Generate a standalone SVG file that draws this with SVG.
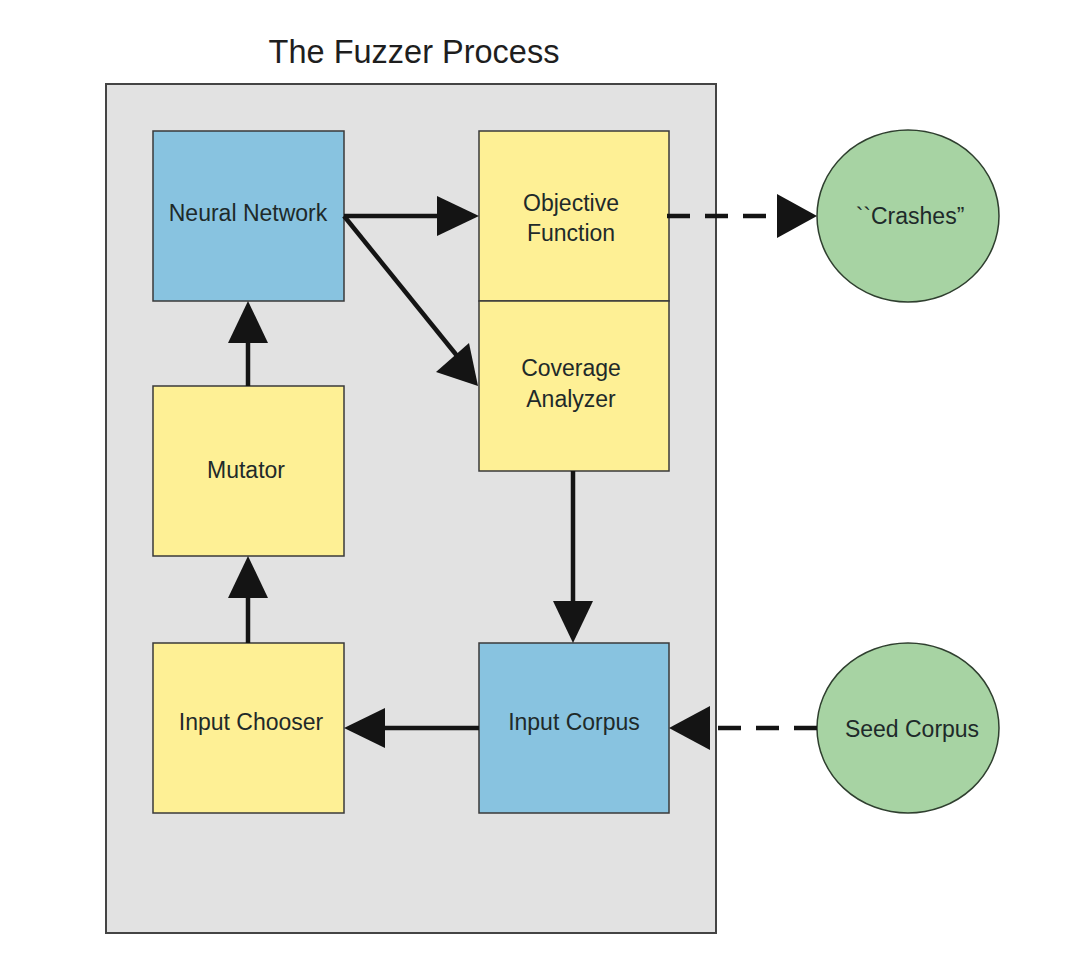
<svg xmlns="http://www.w3.org/2000/svg" width="1080" height="966" viewBox="0 0 1080 966">
<defs>
<style>
.lbl{font-family:"Liberation Sans",Arial,sans-serif;font-size:23px;fill:#1e2a2a;text-anchor:middle}
.box{stroke:#3a3a3a;stroke-width:1.5}
.blue{fill:#88c3e0}
.yellow{fill:#fef095}
.green{fill:#a7d3a3;stroke:#2f3f2f;stroke-width:1.5}
.ln{stroke:#141414;stroke-width:4.5;fill:none}
.dash{stroke:#141414;stroke-width:4.5;fill:none;stroke-dasharray:23 15}
.head{fill:#141414}
</style>
</defs>
<rect x="0" y="0" width="1080" height="966" fill="#ffffff"/>
<text x="414" y="63" style="font-family:'Liberation Sans',Arial,sans-serif;font-size:32.5px;fill:#1e1e1e;text-anchor:middle">The Fuzzer Process</text>
<g id="fuzzer-process">
<rect x="106" y="84" width="610" height="849" fill="#e2e2e2" stroke="#444" stroke-width="2"/>
</g>
<g id="neural-network">
<rect class="box blue" x="153" y="131" width="191" height="170"/>
<text class="lbl" x="248" y="221">Neural Network</text>
</g>
<g id="objective-function">
<rect class="box yellow" x="479" y="131" width="190" height="170"/>
<text class="lbl" x="571" y="211">Objective</text>
<text class="lbl" x="571" y="241">Function</text>
</g>
<g id="coverage-analyzer">
<rect class="box yellow" x="479" y="301" width="190" height="170"/>
<text class="lbl" x="571" y="376">Coverage</text>
<text class="lbl" x="571" y="407">Analyzer</text>
</g>
<g id="mutator">
<rect class="box yellow" x="153" y="386" width="191" height="170"/>
<text class="lbl" x="246" y="478">Mutator</text>
</g>
<g id="input-chooser">
<rect class="box yellow" x="153" y="643" width="191" height="170"/>
<text class="lbl" x="251" y="730">Input Chooser</text>
</g>
<g id="input-corpus">
<rect class="box blue" x="479" y="643" width="190" height="170"/>
<text class="lbl" x="574" y="730">Input Corpus</text>
</g>
<g id="crashes">
<ellipse class="green" cx="908" cy="216" rx="91" ry="86"/>
<text class="lbl" x="910" y="224">``Crashes”</text>
</g>
<g id="seed-corpus">
<ellipse class="green" cx="908" cy="728" rx="91" ry="85"/>
<text class="lbl" x="912" y="737">Seed Corpus</text>
</g>
<g id="connectors">
<line class="ln" x1="344" y1="216" x2="440" y2="216"/>
<polygon class="head" points="437,196 479,216 437,236"/>
<line class="ln" x1="344" y1="216" x2="458" y2="357"/>
<polygon class="head" points="478,386 436,372 469,343"/>
<line class="ln" x1="248" y1="386" x2="248" y2="340"/>
<polygon class="head" points="228,343 248,301 268,343"/>
<line class="ln" x1="248" y1="643" x2="248" y2="595"/>
<polygon class="head" points="228,598 248,556 268,598"/>
<line class="ln" x1="573" y1="471" x2="573" y2="604"/>
<polygon class="head" points="553,601 573,643 593,601"/>
<line class="ln" x1="479" y1="728" x2="382" y2="728"/>
<polygon class="head" points="385,708 344,728 385,748"/>
<line class="dash" x1="667" y1="216" x2="780" y2="216"/>
<polygon class="head" points="777,194 817,216 777,238"/>
<line class="dash" x1="817" y1="728" x2="707" y2="728"/>
<polygon class="head" points="710,706 669,728 710,750"/>
</g>
</svg>
